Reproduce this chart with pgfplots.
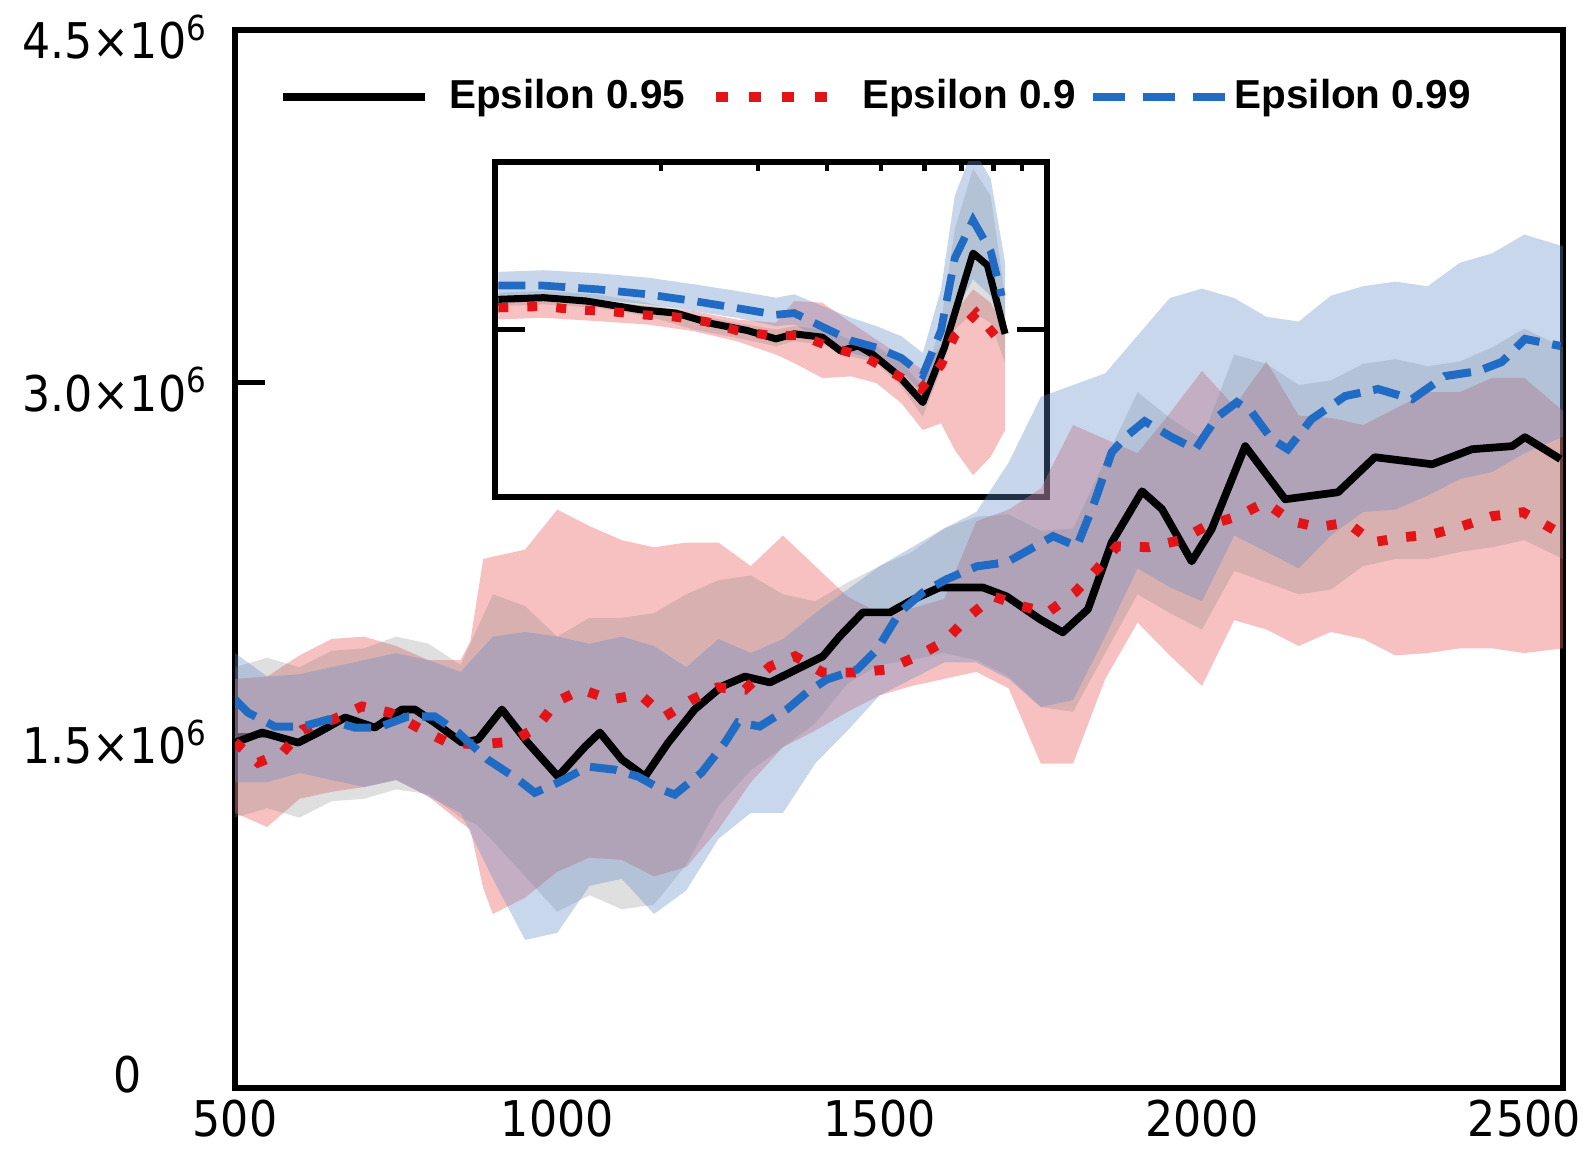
\documentclass[border=0pt]{standalone}
\usepackage{fontspec}
\setmainfont{Liberation Sans}
\newfontfamily\tickfont{DejaVu Sans}[FakeStretch=0.9]
\usepackage{pgfplots}
\usepackage{pgfplotstable}
\pgfplotsset{compat=1.18}
\usepgfplotslibrary{fillbetween}

\definecolor{epsred}{RGB}{226,20,24}
\definecolor{epsblue}{RGB}{32,108,196}
\definecolor{bandred}{RGB}{235,100,100}
\definecolor{bandblue}{RGB}{100,140,200}
\definecolor{bandgray}{RGB}{128,128,128}

\pgfplotsset{
  leg black/.style={legend image code/.code={\draw[##1] (0cm,0cm) -- (1.42cm,0cm);}},
  leg red/.style={legend image code/.code={\path[draw=none,fill=none] (-0.07cm,0cm) -- (1.26cm,0cm); \draw[##1, dash pattern=on 0.12cm off 0.21cm] (0cm,0cm) -- (1.12cm,0cm);}},
  leg blue/.style={legend image code/.code={\path[draw=none,fill=none] (0.07cm,-0.05cm) rectangle (1.22cm,0.05cm); \draw[##1, overlay, dash pattern=on 0.32cm off 0.18cm] (0cm,0cm) -- (1.32cm,0cm);}},
}

% bands of the main plot (values in units of 10^6)
\pgfplotstableread{
x lo hi
500 1.17 1.74
550 1.11 1.75
600 1.23 1.84
650 1.26 1.91
700 1.28 1.92
750 1.31 1.88
800 1.24 1.82
850 1.13 1.82
865 1.10 1.90
885 0.85 2.25
900 0.74 2.26
950 0.81 2.29
1000 0.92 2.46
1050 0.98 2.39
1100 0.97 2.33
1150 0.90 2.30
1200 0.94 2.32
1250 1.10 2.32
1300 1.30 2.22
1350 1.45 2.35
1400 1.52 2.22
1450 1.60 2.09
1500 1.67 2.02
1550 1.71 2.04
1600 1.74 2.08
1650 1.77 2.41
1700 1.70 2.46
1750 1.38 2.55
1800 1.38 2.82
1850 1.74 2.76
1900 1.98 2.70
1950 1.84 2.87
2000 1.71 3.05
2050 1.99 2.90
2100 1.95 3.09
2150 1.88 2.86
2200 1.94 2.85
2250 1.91 2.82
2300 1.84 2.89
2350 1.85 2.96
2400 1.87 2.96
2450 1.87 3.02
2500 1.85 3.02
2560 1.87 2.88
}\redband

\pgfplotstableread{
x lo hi
500 1.30 1.85
550 1.30 1.75
600 1.34 1.76
650 1.31 1.79
700 1.28 1.82
750 1.31 1.85
800 1.24 1.82
850 1.17 1.77
900 0.89 1.92
950 0.63 1.94
1000 0.66 1.92
1050 0.86 1.89
1100 0.89 1.92
1150 0.74 1.88
1200 0.84 1.79
1250 1.06 1.91
1300 1.17 1.85
1350 1.17 1.91
1400 1.38 2.02
1450 1.52 2.12
1500 1.67 2.22
1550 1.74 2.30
1600 1.81 2.38
1650 1.81 2.45
1700 1.74 2.66
1750 1.62 2.94
1800 1.65 2.99
1850 1.92 3.04
1900 2.21 3.20
1950 2.13 3.36
2000 2.07 3.40
2050 2.35 3.36
2100 2.28 3.28
2150 2.21 3.26
2200 2.35 3.37
2250 2.45 3.41
2300 2.46 3.43
2350 2.52 3.41
2400 2.59 3.51
2450 2.62 3.55
2500 2.70 3.63
2560 2.77 3.58
}\blueband

\pgfplotstableread{
x lo hi
500 1.15 1.79
550 1.19 1.83
600 1.15 1.79
650 1.22 1.86
700 1.23 1.87
750 1.27 1.92
800 1.25 1.89
850 1.15 1.80
875 1.12 1.95
900 1.05 2.10
950 0.90 2.05
1000 0.75 1.92
1050 0.82 2.00
1100 0.76 2.00
1150 0.78 2.02
1200 0.95 2.10
1250 1.20 2.16
1300 1.35 2.18
1350 1.45 2.10
1400 1.55 2.07
1450 1.72 2.15
1500 1.80 2.22
1550 1.82 2.28
1600 1.85 2.38
1650 1.82 2.43
1700 1.75 2.44
1750 1.62 2.37
1800 1.60 2.38
1850 1.85 2.67
1900 2.10 2.96
1950 2.02 2.85
2000 1.95 2.76
2050 2.20 3.12
2100 2.15 3.08
2150 2.10 2.99
2200 2.12 3.01
2250 2.22 3.08
2300 2.25 3.10
2350 2.25 3.07
2400 2.28 3.09
2450 2.30 3.15
2500 2.33 3.23
2560 2.25 3.15
}\grayband

% bands of the inset (normalised units)
\pgfplotstableread{
x lo hi
0.6 53.0 58.5
8.8 53.5 59.0
18.5 52.5 58.5
27.6 51.5 57.0
36.0 49.5 55.5
43.8 46.5 53.0
50.9 42.5 52.0
54.2 40.0 58.5
59.3 35.5 58.0
64.5 36.0 52.0
69.1 34.0 47.0
73.6 28.0 42.0
77.5 20.0 38.0
80.8 22.0 45.0
83.3 14.0 55.0
86.6 6.5 62.0
89.8 12.0 58.0
92.4 20.0 50.0
}\iredband

\pgfplotstableread{
x lo hi
0.6 60.0 67.2
8.8 60.0 67.7
18.5 59.0 66.8
27.6 57.5 65.5
36.0 55.5 63.5
43.8 53.5 61.5
50.9 51.0 59.5
54.2 51.5 60.5
59.3 47.0 57.0
64.5 43.0 53.5
69.1 41.0 51.0
73.6 37.5 48.0
77.5 31.0 43.0
80.8 42.0 62.0
83.3 55.0 90.0
86.6 65.0 104
89.8 60.0 95.0
92.4 48.0 70.0
}\iblueband

\pgfplotstableread{
x lo hi
0.6 57 61
8.8 57.5 61.5
18.5 56.5 60.5
27.6 54 58
36.0 50 54.5
43.8 47.5 52
50.9 45 50
54.2 46.5 51
59.3 45.5 50
64.5 42 47
69.1 40 45
73.6 33 40
77.5 24 33
80.8 38 52
83.3 50 80
86.6 55 98
89.8 52 90
92.4 40 60
}\igrayband

\begin{document}
\begin{tikzpicture}

\begin{axis}[
  at={(2.35cm,0.63cm)}, anchor=south west,
  scale only axis, width=13.28cm, height=10.58cm,
  xmin=500, xmax=2560, ymin=0, ymax=4.5,
  axis line style={line width=1.7pt},
  xtick={500,1000,1500,2000,2500},
  xticklabels={500,1000,1500,2000,2500},
  xtick style={draw=none},
  ytick={0,1.5,3,4.5},
  yticklabels={{\raisebox{0.42cm}{\hspace*{0.25cm}0}},{1.5×10\textsuperscript{6}},{3.0×10\textsuperscript{6}},{4.5×10\textsuperscript{6}}},
  ytick pos=left,
  ytick style={line width=1.4pt, black},
  major tick length=0.3cm,
  tick align=inside,
  ticklabel style={font=\tickfont\fontsize{14}{16}\selectfont},
  yticklabel style={anchor=center, xshift=-1.2cm, yshift=-0.07cm},
  legend columns=3,
  legend style={at={(0.033,0.937)}, anchor=west, draw=none, fill=none,
    inner sep=0pt, font=\bfseries\fontsize{11.5}{13}\selectfont,
    /tikz/every odd column/.append style={column sep=0.13cm},
    /tikz/every even column/.append style={column sep=0.17cm}},
]
% Epsilon 0.9 band
\addplot[draw=none, name path=rlo, forget plot] table[x=x, y=lo] {\redband};
\addplot[draw=none, name path=rhi, forget plot] table[x=x, y=hi] {\redband};
\addplot[bandred, fill opacity=0.4, draw=none, forget plot] fill between[of=rlo and rhi];
% Epsilon 0.95 band
\addplot[draw=none, name path=glo, forget plot] table[x=x, y=lo] {\grayband};
\addplot[draw=none, name path=ghi, forget plot] table[x=x, y=hi] {\grayband};
\addplot[bandgray, fill opacity=0.25, draw=none, forget plot] fill between[of=glo and ghi];
% Epsilon 0.99 band
\addplot[draw=none, name path=blo, forget plot] table[x=x, y=lo] {\blueband};
\addplot[draw=none, name path=bhi, forget plot] table[x=x, y=hi] {\blueband};
\addplot[bandblue, fill opacity=0.35, draw=none, forget plot] fill between[of=blo and bhi];

%% Epsilon 0.95
\addplot[black, line width=2.2pt, line join=round, leg black]
  coordinates {
  (500,1.469)(542,1.512)(598,1.469)(629,1.512)(671,1.576)(717,1.533)
  (759,1.610)(779,1.610)(810,1.554)(852,1.469)(877,1.482)(914,1.610)
  (954,1.469)(1001,1.325)(1043,1.452)(1066,1.512)(1100,1.397)(1136,1.325)
  (1172,1.469)(1213,1.610)(1255,1.708)(1291,1.750)(1330,1.725)(1412,1.836)
  (1438,1.921)(1474,2.023)(1516,2.023)(1552,2.078)(1593,2.129)(1660,2.129)
  (1697,2.091)(1749,1.993)(1784,1.938)(1823,2.036)(1860,2.321)(1907,2.538)
  (1938,2.462)(1984,2.240)(2015,2.377)(2067,2.730)(2129,2.504)(2211,2.534)
  (2268,2.683)(2357,2.653)(2419,2.717)(2481,2.730)(2501,2.768)(2556,2.675)
  };
\addlegendentry{Epsilon 0.95}
%% Epsilon 0.9
\addplot[epsred, line width=2.8pt, dash pattern=on 0.1cm off 0.19cm, leg red]
  coordinates {
  (500,1.47)(536,1.384)(574,1.427)(605,1.525)(652,1.567)(697,1.623)
  (740,1.597)(784,1.533)(830,1.469)(880,1.461)(930,1.474)(968,1.533)
  (999,1.644)(1038,1.695)(1082,1.652)(1128,1.674)(1167,1.580)(1209,1.652)
  (1249,1.704)(1291,1.695)(1330,1.793)(1369,1.836)(1412,1.767)(1462,1.767)
  (1511,1.780)(1558,1.836)(1601,1.900)(1637,2.002)(1676,2.091)(1721,2.049)
  (1761,2.023)(1803,2.108)(1837,2.206)(1868,2.304)(1918,2.300)(1966,2.330)
  (2009,2.394)(2056,2.432)(2098,2.491)(2139,2.411)(2180,2.385)(2225,2.406)
  (2265,2.321)(2310,2.342)(2357,2.355)(2403,2.389)(2450,2.432)(2498,2.449)
  (2550,2.368)
  };
\addlegendentry{Epsilon 0.9}
%% Epsilon 0.99
\addplot[epsblue, line width=2.3pt, dash pattern=on 0.27cm off 0.13cm, leg blue]
  coordinates {
  (500,1.652)(520,1.597)(562,1.537)(604,1.537)(644,1.567)(686,1.533)
  (722,1.533)(768,1.580)(810,1.580)(846,1.512)(892,1.397)(939,1.312)
  (965,1.256)(1001,1.299)(1048,1.367)(1089,1.354)(1125,1.325)(1162,1.269)
  (1182,1.248)(1224,1.342)(1260,1.469)(1280,1.555)(1314,1.538)(1356,1.610)
  (1387,1.682)(1418,1.738)(1465,1.780)(1496,1.865)(1531,2.023)(1567,2.108)
  (1604,2.164)(1651,2.219)(1697,2.236)(1733,2.291)(1769,2.347)(1806,2.304)
  (1832,2.483)(1860,2.704)(1883,2.773)(1911,2.836)(1953,2.768)(1990,2.717)
  (2023,2.853)(2054,2.917)(2077,2.875)(2108,2.760)(2133,2.717)(2170,2.845)
  (2222,2.943)(2273,2.973)(2326,2.930)(2377,3.028)(2428,3.049)(2465,3.088)
  (2501,3.186)(2556,3.156)
  };
\addlegendentry{Epsilon 0.99}
\end{axis}

% inset
\begin{axis}[
  at={(4.95cm,6.54cm)}, anchor=south west,
  scale only axis, width=5.52cm, height=3.35cm,
  xmin=0, xmax=100, ymin=0, ymax=100,
  axis background/.style={fill=white},
  axis line style={line width=1.7pt},
  xtick={-10}, xticklabels={},
  minor xtick={30.1,47.7,60.2,69.9,77.8,84.5,90.3,95.4},
  xtick pos=right,
  ytick={50}, yticklabels={},
  major tick length=0.3cm, minor tick length=0.09cm,
  tick align=inside,
  tick style={line width=1.2pt, black},
]
\addplot[draw=none, name path=irlo] table[x=x, y=lo] {\iredband};
\addplot[draw=none, name path=irhi] table[x=x, y=hi] {\iredband};
\addplot[bandred, fill opacity=0.4, draw=none] fill between[of=irlo and irhi];
\addplot[draw=none, name path=iglo] table[x=x, y=lo] {\igrayband};
\addplot[draw=none, name path=ighi] table[x=x, y=hi] {\igrayband};
\addplot[bandgray, fill opacity=0.25, draw=none] fill between[of=iglo and ighi];
\addplot[draw=none, name path=iblo] table[x=x, y=lo] {\iblueband};
\addplot[draw=none, name path=ibhi] table[x=x, y=hi] {\iblueband};
\addplot[bandblue, fill opacity=0.35, draw=none] fill between[of=iblo and ibhi];

\addplot[black, line width=2pt, line join=round] coordinates {
  (0.6,59.0)(8.8,59.5)(16.5,58.5)(26.3,55.9)(32.8,54.9)(39.2,51.8)(45.7,49.7)
  (50.9,47.2)(54.2,48.7)(59.3,47.7)(62.6,43.6)(65.8,45.1)(68.4,42.6)(73.0,36.4)
  (77.5,28.2)(81.4,44.6)(86.6,72.8)(89.2,69.2)(92.4,48.7)
  };
\addplot[epsred, line width=2.6pt, dash pattern=on 0.1cm off 0.19cm] coordinates {
  (0.6,56.5)(8.8,56.9)(14.6,55.9)(20.8,55.4)(26.6,54.4)(32.4,53.8)(38.3,52.3)
  (43.8,49.7)(49.9,48.2)(55.5,48.2)(61.0,44.6)(66.8,42.0)(71.7,37.4)(77.2,32.3)
  (80.8,39.4)(83.3,48.2)(87.2,54.9)(91.1,47.2)
  };
\addplot[epsblue, line width=2.2pt, dash pattern=on 0.27cm off 0.13cm] coordinates {
  (0.6,63.1)(8.8,63.1)(18.5,62.0)(27.6,60.5)(36.0,58.5)(43.8,56.4)(50.9,54.4)
  (54.2,54.9)(59.3,50.8)(64.5,46.7)(69.1,44.6)(73.6,41.5)(77.5,36.4)(80.8,49.7)
  (83.3,71.3)(86.6,82.6)(89.8,73.3)(91.8,60.0)
  };
\end{axis}

\pgfresetboundingbox
\path (0,0) rectangle (15.91cm,11.51cm);
\end{tikzpicture}
\end{document}
